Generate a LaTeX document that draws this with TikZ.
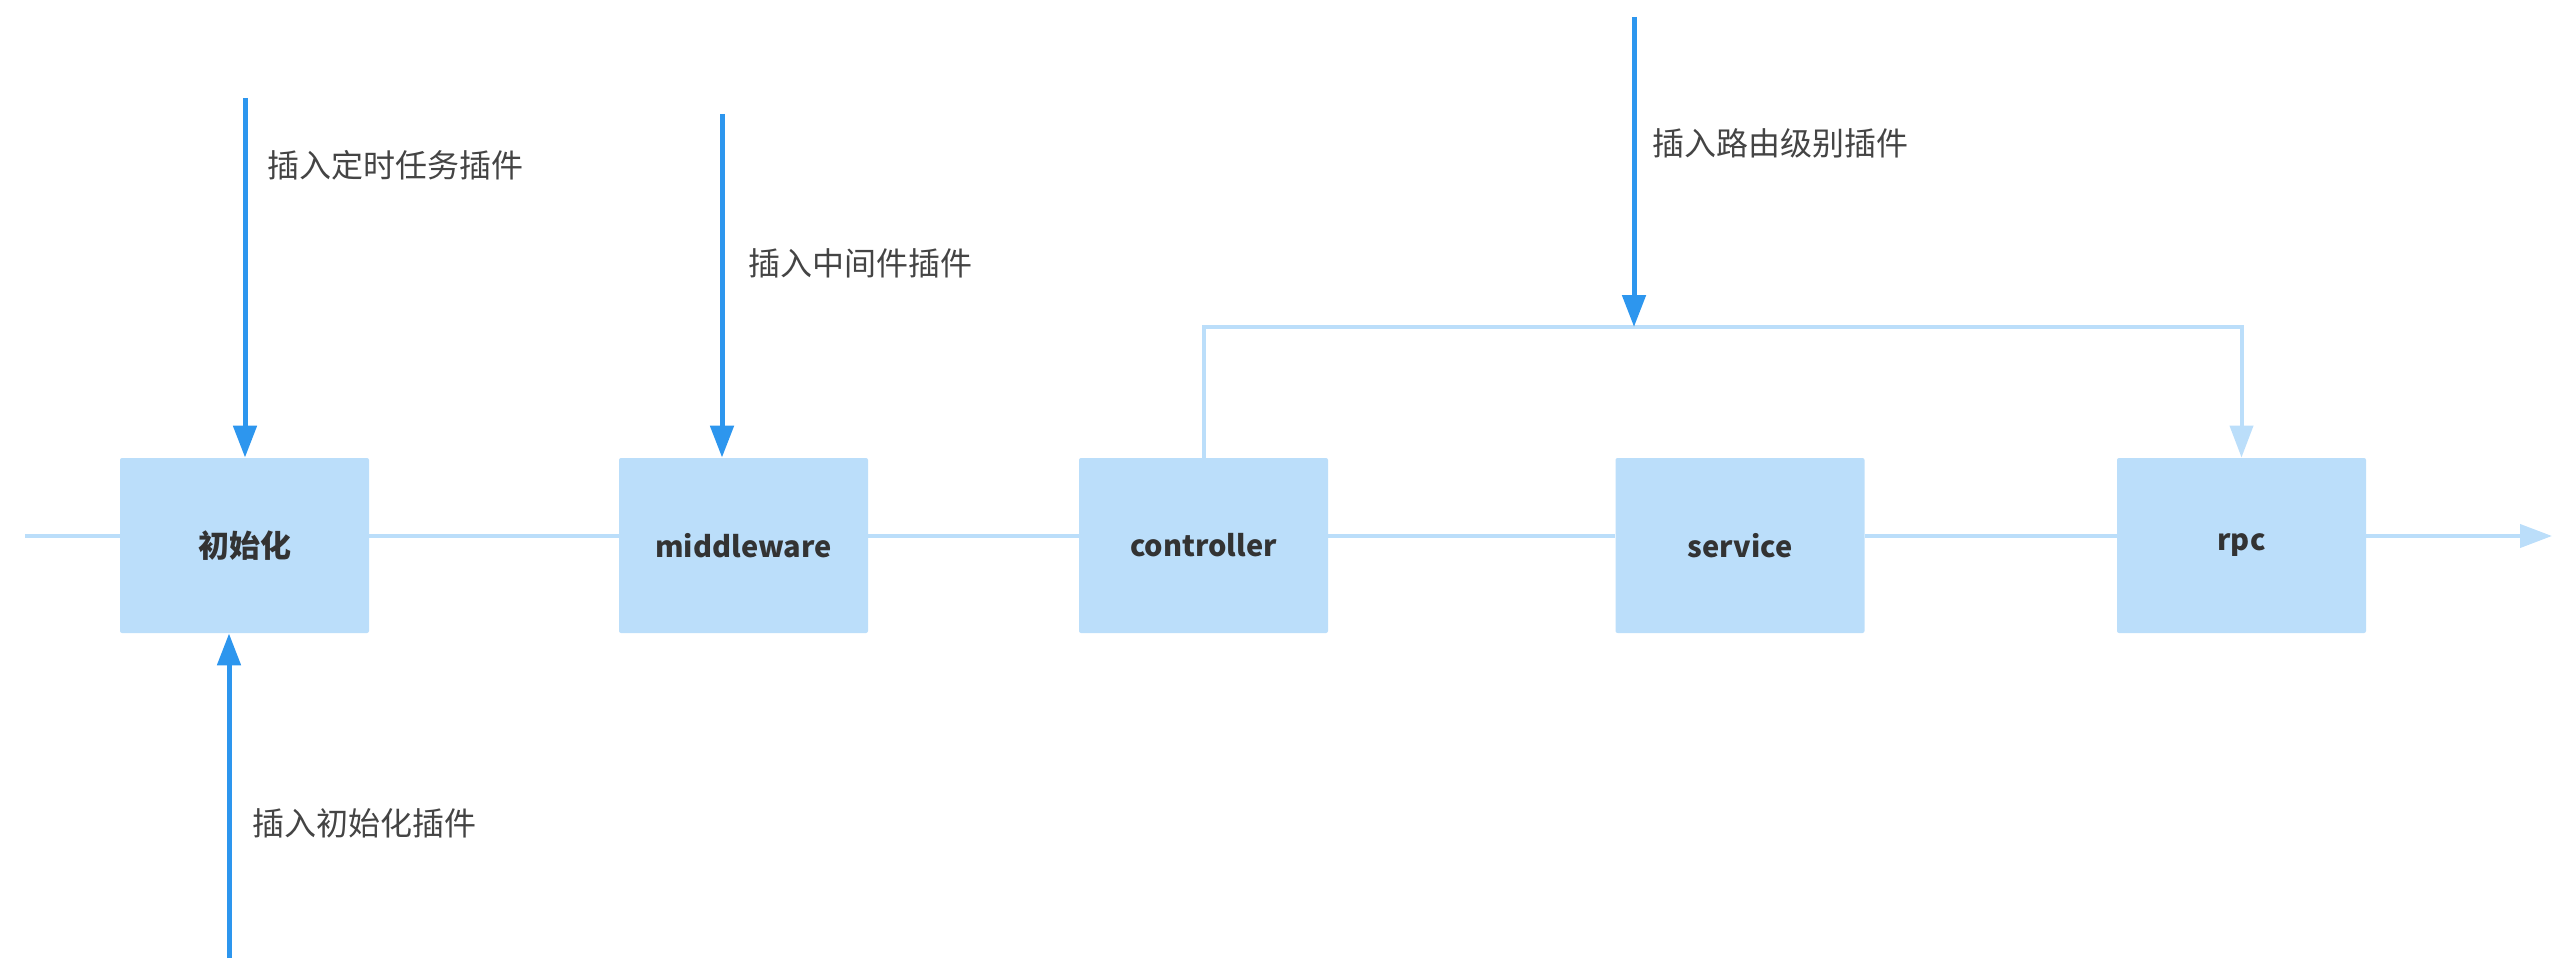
\documentclass[tikz,border=0pt]{standalone}
\usepackage{fontspec}
\setmainfont{Noto Sans CJK SC}
\usetikzlibrary{arrows.meta}
\definecolor{boxblue}{HTML}{BBDEFA}
\definecolor{lineblue}{HTML}{BBDEFA}
\definecolor{darkblue}{HTML}{2D96EE}
\definecolor{txt}{HTML}{333333}
\definecolor{labtxt}{HTML}{444444}
\begin{document}
\begin{tikzpicture}[x=0.5pt,y=-0.5pt,
  stagebox/.style={fill=boxblue, minimum width=124.5pt, minimum height=87.5pt, rounded corners=1pt, inner sep=0pt, font=\fontsize{14.5}{17}\selectfont\bfseries, text=txt},
  flow/.style={draw=lineblue, line width=2pt},
  flowarrow/.style={flow, -{Triangle[length=16pt,width=11.5pt]}},
  plug/.style={draw=darkblue, line width=2.5pt, -{Triangle[length=16pt,width=11.5pt]}},
  lab/.style={anchor=west, font=\fontsize{16}{19}\selectfont, text=labtxt, inner sep=0pt}]
\useasboundingbox (0,0) rectangle (2560,974);

\node[stagebox, font=\fontsize{15.5}{18}\selectfont\bfseries] (b1) at (244.5,545.5) {初始化};
\node[stagebox] (b2) at (743.5,545.5) {middleware};
\node[stagebox] (b3) at (1203.5,545.5) {controller};
\node[stagebox] (b4) at (1740,545.5) {service};
\node[stagebox] (b5) at (2241.5,545.5) {rpc};

\coordinate (in) at (25,536);
\coordinate (out) at (2552,536);
\draw[flow] (in) -- (in -| b1.west);
\draw[flow] (b1.east |- in) -- (b2.west |- in);
\draw[flow] (b2.east |- in) -- (b3.west |- in);
\draw[flow] (b3.east |- in) -- (b4.west |- in);
\draw[flow] (b4.east |- in) -- (b5.west |- in);
\draw[flowarrow] (b5.east |- in) -- (out);

% route-level branch
\coordinate (r2) at (2241.5,327);
\draw[flowarrow] (b3.north) |- (r2) -- (b5.north);

% plugin arrows
\coordinate (p1) at (245,98);
\draw[plug] (p1) -- (p1 |- b1.north);
\node[lab] (l1) at (267,165) {插入定时任务插件};

\coordinate (p2) at (722,114);
\draw[plug] (p2) -- (p2 |- b2.north);
\node[lab] (l2) at (748,263) {插入中间件插件};

\coordinate (p3) at (229,958);
\draw[plug] (p3) -- (p3 |- b1.south);
\node[lab] (l3) at (252,823) {插入初始化插件};

\coordinate (p4) at (1634,17);
\draw[plug] (p4) -- (p4 |- r2);
\node[lab] (l4) at (1652,143) {插入路由级别插件};
\end{tikzpicture}
\end{document}
